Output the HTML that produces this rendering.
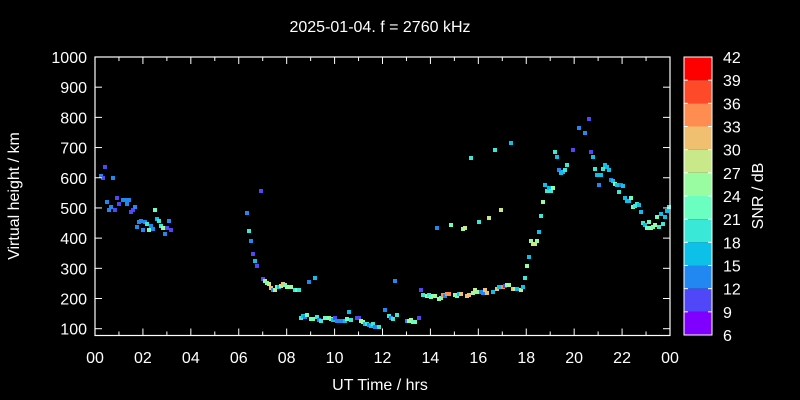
<!DOCTYPE html>
<html><head><meta charset="utf-8"><style>
html,body{margin:0;padding:0;background:#000;}
svg{display:block;}
text{font-family:"Liberation Sans",sans-serif;fill:#fff;}
</style></head><body>
<svg id="s" width="800" height="400" xmlns="http://www.w3.org/2000/svg">
<rect width="800" height="400" fill="#000"/>
<text x="380" y="32" font-size="16" text-anchor="middle">2025-01-04. f = 2760 kHz</text>
<text x="380" y="390" font-size="16" text-anchor="middle">UT Time / hrs</text>
<text transform="translate(19,196) rotate(-90)" font-size="16" text-anchor="middle">Virtual height / km</text>
<text transform="translate(763,196) rotate(-90)" font-size="16" text-anchor="middle">SNR / dB</text>
<g id="pts"></g>
<rect x="95" y="57" width="575" height="278.5" fill="none" stroke="#fff" stroke-width="1.2"/>
<g id="ax" stroke="#fff" stroke-width="1"></g>
<g id="lbl" font-size="16"></g>
<g id="cb"></g>
</svg>
<script>
var NS="http://www.w3.org/2000/svg";
function el(p,t,a,txt){var e=document.createElementNS(NS,t);for(var k in a)e.setAttribute(k,a[k]);if(txt!=null)e.textContent=txt;p.appendChild(e);return e;}
var ax=document.getElementById('ax'),lbl=document.getElementById('lbl'),cb=document.getElementById('cb'),pts=document.getElementById('pts');
var x0=95,xs=575/24;
for(var h=0;h<=24;h++){var x=x0+h*xs,l=(h%2==0)?7:4;
el(ax,'line',{x1:x,y1:335.5,x2:x,y2:335.5-l});el(ax,'line',{x1:x,y1:57,x2:x,y2:57+l});
if(h%2==0){var s=(h%24);el(lbl,'text',{x:x,y:363,'text-anchor':'middle'},(s<10?'0':'')+s);}}
for(var v=100;v<=1000;v+=100){var y=328.7-(v-100)*0.3019;
el(ax,'line',{x1:95,y1:y,x2:102,y2:y});el(ax,'line',{x1:670,y1:y,x2:663,y2:y});
el(lbl,'text',{x:87,y:y+6,'text-anchor':'end'},v);}
var C={A:'#8000ff',B:'#5048f8',C:'#2088f0',D:'#0cc0e8',E:'#3ae8d8',F:'#6affc0',G:'#9afca0',H:'#c8e88a',I:'#f0c070',J:'#ff8c50',K:'#ff4a2a',L:'#ff0000'};
var bands=['L','K','J','I','H','G','F','E','D','C','B','A'];
var bh=278/12;
for(var i=0;i<12;i++){el(cb,'rect',{x:684,y:57+i*bh,width:28,height:bh,fill:C[bands[i]]});}
el(cb,'rect',{x:684,y:57,width:28,height:278,fill:'none',stroke:'#fff','stroke-width':1});
for(var i=0;i<=12;i++){var y=57+i*bh;
if(i>0&&i<12){el(cb,'line',{x1:684,y1:y,x2:688,y2:y,stroke:'#fff'});el(cb,'line',{x1:712,y1:y,x2:708,y2:y,stroke:'#fff'});}
el(cb,'text',{x:723,y:y+6,'font-size':16},42-3*i);}
var d="101,176,C;103,178,B;105,167,B;113,178,C;107,202,C;109,210,C;111,207,C;115,210,B;117,198,B;119,204,B;123,200,C;125,200,C;127,204,C;129,200,C;131,212,B;133,210,B;135,207,C;137,227,C;139,222,C;141,221,C;143,230,C;145,222,C;147,224,E;149,230,F;151,226,C;153,229,C;155,210,F;157,219,D;159,221,E;161,226,E;163,228,G;165,234,C;167,228,B;169,221,C;171,230,B;"+
"247,213,C;249,231,E;251,241,C;253,254,B;255,261,D;257,266,B;261,191,B;263,279,B;265,281,G;267,283,F;269,284,H;271,288,I;273,290,C;275,290,H;277,287,F;279,287,D;281,286,H;283,284,I;285,285,F;287,287,G;289,287,G;291,287,G;295,290,E;297,290,F;299,290,E;309,282,C;315,278,D;"+
"301,318,E;303,316,D;305,317,C;307,315,F;311,319,F;313,319,F;317,317,E;319,320,C;321,321,E;325,318,F;329,318,G;331,319,F;333,320,D;335,318,B;337,321,C;339,321,C;343,321,C;345,321,D;347,319,F;349,312,D;351,320,E;357,318,B;359,318,B;361,321,G;363,322,G;365,324,D;367,324,E;369,325,C;371,326,D;373,324,E;375,327,C;379,327,E;385,310,C;389,316,E;391,318,C;393,319,E;395,281,C;397,315,E;407,321,C;409,321,G;411,320,G;413,322,F;415,322,F;419,318,B;"+
"421,290,B;423,295,E;427,296,G;429,295,E;431,297,F;433,296,G;435,296,G;439,299,G;441,298,F;443,295,J;445,296,C;447,294,J;449,294,J;455,295,G;457,296,F;459,294,D;461,294,I;467,296,I;469,295,I;473,293,G;475,290,H;477,292,G;481,292,C;483,293,C;485,290,I;487,293,I;493,292,D;497,289,I;499,287,D;503,287,J;505,286,B;507,285,G;509,285,G;513,289,I;515,289,G;517,289,D;521,290,H;523,287,D;525,278,E;527,266,G;529,257,D;531,241,G;533,244,H;535,244,H;537,241,G;539,232,D;541,216,E;543,202,G;545,185,D;547,191,E;549,188,D;551,191,E;553,188,G;555,152,E;557,157,D;559,170,C;561,173,D;563,172,D;565,170,E;567,165,E;573,150,B;"+
"437,228,C;451,225,F;463,229,G;465,228,H;471,158,E;479,222,E;489,218,H;501,210,H;495,150,E;511,143,D;"+
"579,128,C;585,133,C;589,119,B;591,152,B;593,157,D;595,169,E;597,175,D;599,185,C;601,175,D;603,169,E;605,165,D;607,167,D;609,170,D;611,180,C;613,181,D;615,184,F;617,185,D;619,192,E;621,185,C;623,186,D;625,198,D;627,201,D;629,201,D;631,198,F;633,207,F;635,206,E;637,204,E;639,205,D;641,212,D;643,223,E;645,225,D;647,228,F;649,222,F;651,228,G;653,227,F;655,225,G;657,217,F;659,227,E;661,214,D;663,224,E;665,217,D;667,211,D;669,207,E";
d.split(';').forEach(function(p){var a=p.split(',');if(a.length<3)return;
el(pts,'rect',{x:+a[0]-2,y:+a[1]-2,width:4,height:4,fill:C[a[2]]});});
</script>
</body></html>
